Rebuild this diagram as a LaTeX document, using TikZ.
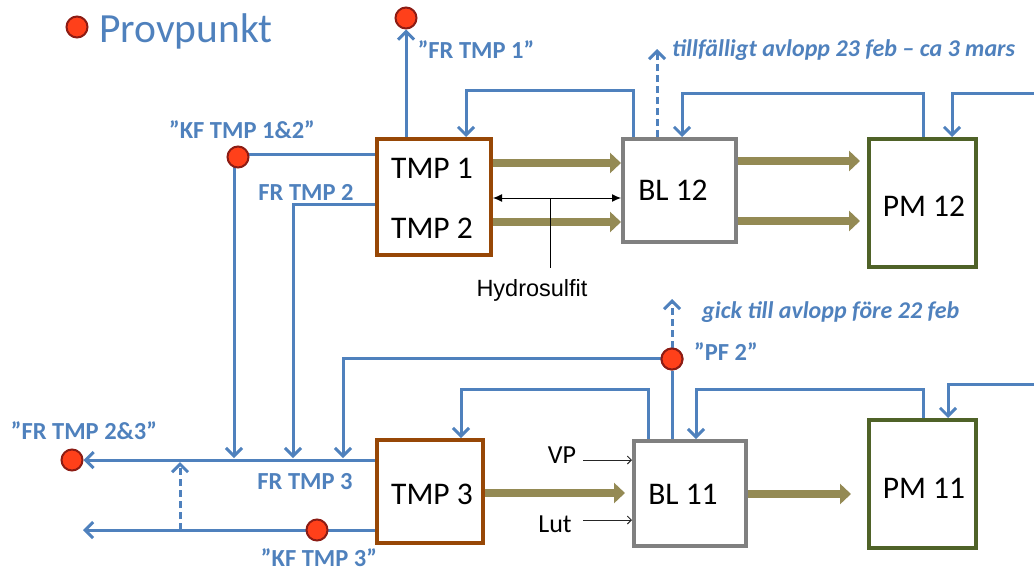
\documentclass[tikz,border=0pt]{standalone}
\usepackage{fontspec}
\setmainfont{Carlito}
\newfontfamily\arialf{Liberation Sans}
\usetikzlibrary{arrows.meta,calc}
\definecolor{flowblue}{RGB}{79,129,189}
\definecolor{khaki}{RGB}{148,138,84}
\definecolor{brownB}{RGB}{151,71,6}
\definecolor{grayB}{RGB}{128,128,128}
\definecolor{greenB}{RGB}{79,98,40}
\definecolor{dotred}{RGB}{255,64,26}
\definecolor{dotdark}{RGB}{140,28,20}
\begin{document}
\begin{tikzpicture}[x=1pt,y=-1pt,
  box/.style={draw, line width=4pt, fill=white, inner sep=0pt},
  boxtext/.style={inner sep=0pt, font=\fontsize{31.5}{34}\selectfont},
  flowl/.style={draw=flowblue, line width=3pt},
  flowarr/.style={flowl, -{Straight Barb[length=8pt,width=16pt]}},
  dashedarr/.style={flowarr, dash pattern=on 7pt off 4pt},
  pulp/.style={draw=khaki, line width=8pt, -{Triangle[length=11pt,width=20pt]}},
  chem/.style={draw=black, line width=1pt},
  sample/.style={circle, fill=dotred, draw=dotdark, line width=2pt, minimum size=21pt, inner sep=0pt},
  lab/.style={text=flowblue, inner sep=0pt, font=\fontsize{24.5}{28}\selectfont\bfseries},
  ilab/.style={lab, font=\fontsize{24}{28}\selectfont\bfseries\itshape},
]
\useasboundingbox (0,0) rectangle (1034,571);

% legend
\node[sample] (legdot) at (77,27) {};
\node[text=flowblue, anchor=west, inner sep=0pt, font=\fontsize{41.5}{46}\selectfont] (legtext) at (99,31) {Provpunkt};

% boxes
\node[box, draw=brownB, minimum width=114pt, minimum height=116pt] (tmp12) at (434,197) {};
\node[box, draw=grayB, minimum width=113pt, minimum height=103pt] (bl12) at (679.5,190.5) {};
\node[box, draw=greenB, minimum width=107pt, minimum height=128pt] (pm12) at (922.5,203) {};
\node[box, draw=brownB, minimum width=106pt, minimum height=103pt] (tmp3) at (430,491.5) {};
\node[box, draw=grayB, minimum width=112pt, minimum height=105pt] (bl11) at (690,493.5) {};
\node[box, draw=greenB, minimum width=107pt, minimum height=128pt] (pm11) at (922.5,484) {};

\node[boxtext] (ttmp1) at (432,168) {TMP 1};
\node[boxtext] (ttmp2) at (432,228) {TMP 2};
\node[boxtext] (tbl12) at (673,190) {BL 12};
\node[boxtext] (tpm12) at (924,206) {PM 12};
\node[boxtext] (ttmp3) at (432,494) {TMP 3};
\node[boxtext] (tbl11) at (683,494) {BL 11};
\node[boxtext] (tpm11) at (924,488) {PM 11};

% pulp flow arrows
\coordinate (p1) at (0,163);
\coordinate (p2) at (0,222);
\coordinate (p3e) at (860,161);
\coordinate (p4e) at (860,221);
\coordinate (p5e) at (625,493);
\coordinate (p6e) at (851,494);
\draw[pulp] (tmp12.east |- p1) -- (bl12.west |- p1);
\draw[pulp] (tmp12.east |- p2) -- (bl12.west |- p2);
\draw[pulp] (bl12.east |- p3e) -- (p3e);
\draw[pulp] (bl12.east |- p4e) -- (p4e);
\draw[pulp] (tmp3.east |- p5e) -- (p5e);
\draw[pulp] (bl11.east |- p6e) -- (p6e);

% hydrosulfit
\coordinate (hy) at (550,198);
\coordinate (hyb) at (550,268);
\draw[chem, {Latex[length=9pt,width=8pt]}-{Latex[length=9pt,width=8pt]}] (tmp12.east |- hy) -- (bl12.west |- hy);
\draw[chem] (hy) -- (hyb);
\node[inner sep=0pt, font=\arialf\fontsize{23.5}{26}\selectfont] (hydro) at (532,290) {Hydrosulfit};

% VP / Lut
\node[inner sep=0pt, font=\fontsize{26}{30}\selectfont] (vp) at (562,455) {VP};
\node[inner sep=0pt, font=\fontsize{26}{30}\selectfont] (lut) at (555,524) {Lut};
\coordinate (vps) at (583,460);
\coordinate (luts) at (583,520);
\draw[draw=black!85, line width=0.9pt, -{Straight Barb[length=4pt,width=8pt]}] (vps) -- (bl11.west |- vps);
\draw[draw=black!85, line width=0.9pt, -{Straight Barb[length=4pt,width=8pt]}] (luts) -- (bl11.west |- luts);

% sample points
\node[sample] (dfr1) at (406,18) {};
\node[sample] (dpf2) at (672,359) {};
\node[sample] (dfr23) at (72,460) {};

% FR TMP 1
\draw[flowarr] (tmp12.north -| dfr1) -- (dfr1.south);

% BL12 -> TMP1 return
\coordinate (r1a) at (633,90);
\coordinate (r1b) at (466,90);
\draw[flowarr] (bl12.north -| r1a) -- (r1a) -- (r1b) -- (r1b |- tmp12.north);

% temporary drain
\coordinate (t1) at (657,49);
\draw[dashedarr] (bl12.north -| t1) -- (t1);

% PM12 -> BL12
\coordinate (r2a) at (923,93);
\coordinate (r2b) at (682,93);
\draw[flowarr] (pm12.north -| r2a) -- (r2a) -- (r2b) -- (r2b |- bl12.north);

% incoming to PM12
\coordinate (r3a) at (1034,93);
\coordinate (r3b) at (952,93);
\draw[flowarr] (r3a) -- (r3b) -- (r3b |- pm12.north);

% FR TMP 3 main line
\coordinate (fry) at (0,460);
\draw[flowarr] (tmp3.west |- fry) -- (dfr23.east);

% KF TMP 1&2
\coordinate (k1) at (234,154);
\coordinate (k1e) at (234,458);
\draw[flowl] (tmp12.west |- k1) -- (k1);
\draw[flowarr] (k1) -- (k1e);
\node[sample] (dkf12) at (238,157) {};

% FR TMP 2
\coordinate (f2) at (293,204);
\coordinate (f2e) at (293,458);
\draw[flowarr] (tmp12.west |- f2) -- (f2) -- (f2e);

% PF2 branch
\coordinate (pfa) at (343,358);
\coordinate (pfe) at (343,458);
\draw[flowarr] (dpf2.west |- pfa) -- (pfa) -- (pfe);
\draw[flowl] (dpf2.south) -- (dpf2.south |- bl11.north);
\coordinate (t2) at (672,299);
\draw[dashedarr] (dpf2.north) -- (t2);
\node[sample] at (dpf2) {};

% BL11 -> TMP3
\coordinate (r4a) at (648,389);
\coordinate (r4b) at (461,389);
\draw[flowarr] (bl11.north -| r4a) -- (r4a) -- (r4b) -- (r4b |- tmp3.north);

% PM11 -> BL11
\coordinate (r5a) at (923,389);
\coordinate (r5b) at (696,389);
\draw[flowarr] (pm11.north -| r5a) -- (r5a) -- (r5b) -- (r5b |- bl11.north);

% incoming to PM11
\coordinate (r6a) at (1034,384);
\coordinate (r6b) at (948,384);
\draw[flowarr] (r6a) -- (r6b) -- (r6b |- pm11.north);

% KF TMP 3 bottom line
\coordinate (kb) at (0,530);
\coordinate (kbe) at (83,530);
\draw[flowarr] (tmp3.west |- kb) -- (kbe);
\coordinate (db) at (180,530);
\coordinate (dbe) at (180,462);
\draw[dashedarr] (db) -- (dbe);
\node[sample] (dkf3) at (317,530) {};

% labels
\node[lab] (lfr1) at (476,50) {”FR TMP 1”};
\node[lab] (lkf12) at (242,130) {”KF TMP 1\&2”};
\node[lab] (lfr2) at (306,192) {FR TMP 2};
\node[lab] (lpf2) at (726,352) {”PF 2”};
\node[lab] (lfr23) at (84,431) {”FR TMP 2\&3”};
\node[lab] (lfr3) at (305,482) {FR TMP 3};
\node[lab] (lkf3) at (319,558) {”KF TMP 3”};
\node[ilab, anchor=west] (ltemp) at (672,50) {tillfälligt avlopp 23 feb – ca 3 mars};
\node[ilab, anchor=west] (lgick) at (702,312) {gick till avlopp före 22 feb};
\end{tikzpicture}
\end{document}
